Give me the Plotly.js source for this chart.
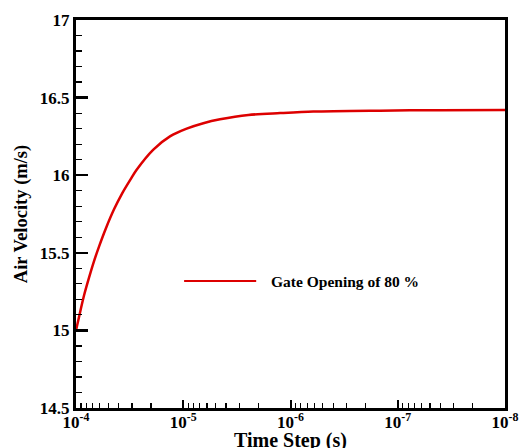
<!DOCTYPE html>
<html>
<head>
<meta charset="utf-8">
<script src="https://cdn.plot.ly/plotly-3.0.1.min.js"></script>
<style>
  html, body { margin: 0; padding: 0; background: #fff; }
  #chart { width: 519px; height: 448px; }
</style>
</head>
<body>
<div id="chart"></div>
<script>
// Air velocity against the solver time step (gate opening 80 %)
const timeStep = [1e-4, 9.04e-5, 8.42e-5, 7.56e-5, 6.8e-5, 6.1e-5, 5.28e-5, 4.42e-5,
                  3.7e-5, 3.09e-5, 2.72e-5, 1.9e-5, 1.33e-5, 9.29e-6, 6.5e-6, 4.54e-6,
                  2.47e-6, 1.25e-6, 6.12e-7, 1.47e-7, 4.04e-8, 1e-8];
const airVelocity = [15.0, 15.135, 15.225, 15.34, 15.445, 15.54, 15.655, 15.78,
                     15.885, 15.975, 16.035, 16.165, 16.25, 16.30, 16.335, 16.36,
                     16.388, 16.40, 16.41, 16.416, 16.419, 16.42];
const seriesName = 'Gate Opening of 80 %';
const xTitle = 'Time Step (s)';
const yTitle = 'Air Velocity (m/s)';
const xTickVals = [1e-4, 1e-5, 1e-6, 1e-7, 1e-8];
const xTickText = ['10<sup>-4</sup>', '10<sup>-5</sup>', '10<sup>-6</sup>', '10<sup>-7</sup>', '10<sup>-8</sup>'];
const yTickVals = [14.5, 15, 15.5, 16, 16.5, 17];
const yTickText = ['14.5', '15', '15.5', '16', '16.5', '17'];

const serif = 'Liberation Serif, Times New Roman, serif';
const red = '#dd0000';
const bold = s => '<b>' + s + '</b>';

const trace = {
  x: timeStep,
  y: airVelocity,
  type: 'scatter',
  mode: 'lines',
  name: seriesName,
  line: { color: red, width: 2.5, shape: 'spline', smoothing: 0.8 },
  showlegend: false
};

const layout = {
  width: 519,
  height: 448,
  margin: { l: 76, r: 14, t: 20, b: 40 },
  paper_bgcolor: '#ffffff',
  plot_bgcolor: '#ffffff',
  font: { family: serif, color: '#000', size: 17 },
  xaxis: {
    type: 'log',
    range: [-4, -8],
    tickvals: xTickVals,
    ticktext: xTickText.map(bold),
    ticks: 'inside',
    ticklen: 8,
    tickwidth: 2,
    tickcolor: '#000',
    minor: { ticks: 'inside', ticklen: 5, tickwidth: 1.2, tickcolor: '#000', dtick: 'D1' },
    showline: true,
    linewidth: 3,
    linecolor: '#000',
    mirror: true,
    showgrid: false,
    zeroline: false,
    ticklabelstandoff: -3,
    tickfont: { family: serif, size: 17, color: '#000' },
    automargin: false
  },
  yaxis: {
    range: [14.5, 17],
    tickvals: yTickVals,
    ticktext: yTickText.map(bold),
    ticks: 'inside',
    ticklen: 12,
    tickwidth: 2.5,
    tickcolor: '#000',
    minor: { ticks: 'inside', ticklen: 6, tickwidth: 1.2, tickcolor: '#000', dtick: 0.1 },
    showline: true,
    linewidth: 3,
    linecolor: '#000',
    mirror: true,
    showgrid: false,
    zeroline: false,
    tickfont: { family: serif, size: 17, color: '#000' },
    title: { text: bold(yTitle), font: { family: serif, size: 18.5, color: '#000' }, standoff: 8 },
    automargin: false
  },
  shapes: [
    // legend sample line
    { type: 'line', xref: 'paper', yref: 'paper', x0: 0.252, x1: 0.42, y0: 0.327, y1: 0.327,
      line: { color: red, width: 2 } }
  ],
  annotations: [
    { xref: 'paper', yref: 'paper', x: 0.45, y: 0.327, xanchor: 'left', yanchor: 'middle',
      text: bold(seriesName), showarrow: false,
      font: { family: serif, size: 15.5, color: '#000' } },
    // x-axis title, set just under the tick labels
    { xref: 'paper', yref: 'paper', x: 0.499, y: -0.048, xanchor: 'center', yanchor: 'top',
      text: bold(xTitle), showarrow: false,
      font: { family: serif, size: 20, color: '#000' } }
  ]
};

Plotly.newPlot('chart', [trace], layout, { displayModeBar: false, staticPlot: true });
</script>
</body>
</html>
